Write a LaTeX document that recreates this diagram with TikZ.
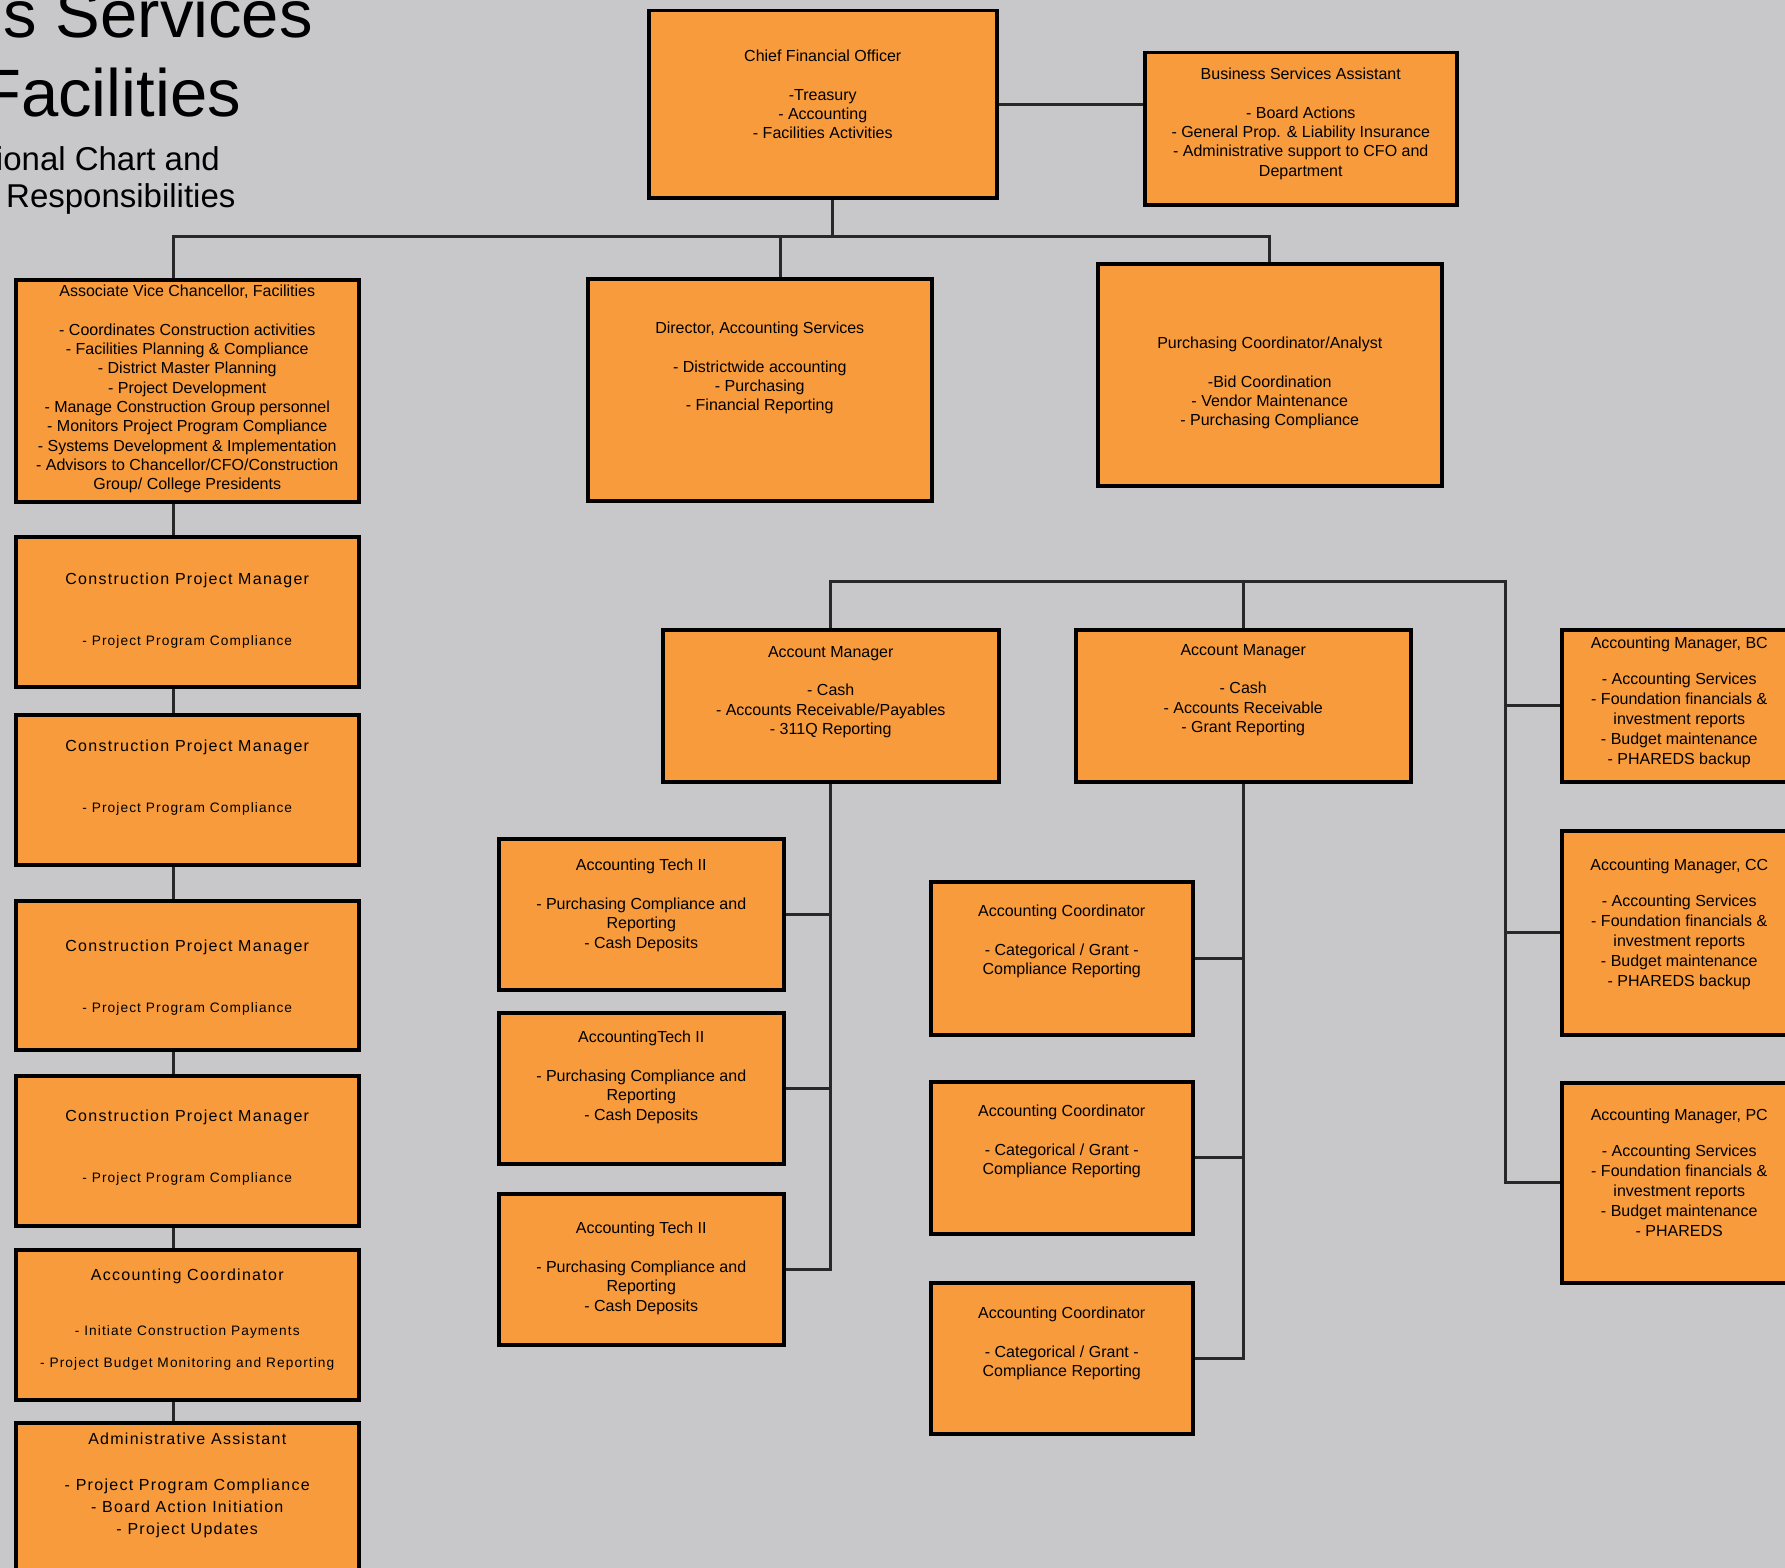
\documentclass[tikz,border=0pt]{standalone}
\usepackage{fontspec}
\setmainfont{Liberation Sans}
\newfontfamily\spacedfont[LetterSpace=8]{Liberation Sans}
\usetikzlibrary{positioning}

\definecolor{chartbg}{RGB}{200,200,202}
\definecolor{boxorange}{RGB}{248,155,60}
\definecolor{linegray}{RGB}{40,40,40}

\tikzset{
  orgbox/.style={draw=black, fill=boxorange, line width=3.5pt, inner sep=0pt, anchor=north west},
  wh/.style 2 args={minimum width=#1pt, minimum height=#2pt},
  boxtext/.style={inner sep=0pt, align=center, font=\fontsize{16}{19.3}\selectfont},
  lefttext/.style={inner sep=0pt, align=center, font=\spacedfont\fontsize{13.7}{17}\selectfont},
  conn/.style={draw=linegray, line width=3pt},
  heading/.style={inner sep=0pt, anchor=base east},
}

\begin{document}
\begin{tikzpicture}[x=1pt, y=-1pt]
\useasboundingbox (0,0) rectangle (1785,1568);
\fill[chartbg] (0,0) rectangle (1785,1568);

% title (cut off at the left edge)
\node[heading, font=\fontsize{67}{80}\selectfont] (title1) at (313,38) {s Services};
\node[heading, font=\fontsize{67}{80}\selectfont] (title2) at (241,117) {Facilities};
\node[heading, font=\fontsize{33}{40}\selectfont] (title3) at (220,171) {ional Chart and};
\node[heading, anchor=base west, font=\fontsize{33}{40}\selectfont] (title4) at (6,207) {Responsibilities};

% top row
\node[orgbox, wh={348}{187}] (cfo) at (647,9) {};
\node[boxtext, below=41pt of cfo.north] (cfotext) {Chief Financial Officer\\[19.3pt] -Treasury\\ - Accounting\\ - Facilities Activities};
\node[orgbox, wh={312}{152}] (bsa) at (1143,51) {};
\node[boxtext, below=17pt of bsa.north] (bsatext) {Business Services Assistant\\[19.3pt] - Board Actions\\ - General Prop. \& Liability Insurance\\ - Administrative support to CFO and\\ Department};

\node[orgbox, wh={343}{222}] (avc) at (14,278) {};
\node[boxtext, below=7pt of avc.north] (avctext) {Associate Vice Chancellor, Facilities\\[19.3pt] - Coordinates Construction activities\\ - Facilities Planning \& Compliance\\ - District Master Planning\\ - Project Development\\ - Manage Construction Group personnel\\ - Monitors Project Program Compliance\\ - Systems Development \& Implementation\\ - Advisors to Chancellor/CFO/Construction\\ Group/ College Presidents};
\node[orgbox, wh={344}{222}] (dir) at (586,277) {};
\node[boxtext, below=45pt of dir.north] (dirtext) {Director, Accounting Services\\[19.3pt] - Districtwide accounting\\ - Purchasing\\ - Financial Reporting};
\node[orgbox, wh={344}{222}] (pur) at (1096,262) {};
\node[boxtext, below=75pt of pur.north] (purtext) {Purchasing Coordinator/Analyst\\[19.3pt] -Bid Coordination\\ - Vendor Maintenance\\ - Purchasing Compliance};

% facilities column
\node[orgbox, wh={343}{150}] (cpm1) at (14,535) {};
\node[orgbox, wh={343}{150}] (cpm2) at (14,713) {};
\node[orgbox, wh={343}{149}] (cpm3) at (14,899) {};
\node[orgbox, wh={343}{150}] (cpm4) at (14,1074) {};
\foreach \b/\d in {cpm1/38, cpm2/27, cpm3/41, cpm4/36}
  \node[lefttext, below=\d pt of \b.north] (\b text) {{\fontsize{16}{19}\selectfont Construction Project Manager}\\[44pt] - Project Program Compliance};
\node[orgbox, wh={343}{150}] (acf) at (14,1248) {};
\node[lefttext, below=21pt of acf.north, font=\spacedfont\fontsize{13.7}{32}\selectfont] (acftext) {{\fontsize{16}{19}\selectfont Accounting Coordinator}\\[23pt] - Initiate Construction Payments\\ - Project Budget Monitoring and Reporting};
\node[orgbox, wh={343}{170}] (adm) at (14,1421) {};
\node[lefttext, below=12pt of adm.north, font=\spacedfont\fontsize{16}{22}\selectfont] (admtext) {Administrative Assistant\\[23.5pt] - Project Program Compliance\\ - Board Action Initiation\\ - Project Updates};

% accounting managers
\node[orgbox, wh={336}{152}] (am1) at (661,628) {};
\node[boxtext, below=18pt of am1.north] (am1text) {Account Manager\\[19.3pt] - Cash\\ - Accounts Receivable/Payables\\ - 311Q Reporting};
\node[orgbox, wh={335}{152}] (am2) at (1074,628) {};
\node[boxtext, below=16pt of am2.north] (am2text) {Account Manager\\[19.3pt] - Cash\\ - Accounts Receivable\\ - Grant Reporting};
\node[orgbox, wh={235}{152}] (amb) at (1560,628) {};
\node[boxtext, below=9pt of amb.north, font=\fontsize{16}{20}\selectfont] (ambtext) {Accounting Manager, BC\\[16pt] - Accounting Services\\ - Foundation financials \&\\ investment reports\\ - Budget maintenance\\ - PHAREDS backup};
\node[orgbox, wh={235}{204}] (amc) at (1560,829) {};
\node[boxtext, below=30pt of amc.north, font=\fontsize{16}{20}\selectfont] (amctext) {Accounting Manager, CC\\[16pt] - Accounting Services\\ - Foundation financials \&\\ investment reports\\ - Budget maintenance\\ - PHAREDS backup};
\node[orgbox, wh={235}{200}] (amp) at (1560,1081) {};
\node[boxtext, below=28pt of amp.north, font=\fontsize{16}{20}\selectfont] (amptext) {Accounting Manager, PC\\[16pt] - Accounting Services\\ - Foundation financials \&\\ investment reports\\ - Budget maintenance\\ - PHAREDS};

% techs and coordinators
\node[orgbox, wh={285}{151}] (at1) at (497,837) {};
\node[boxtext, below=22pt of at1.north] (at1text) {Accounting Tech II\\[19.3pt] - Purchasing Compliance and\\ Reporting\\ - Cash Deposits};
\node[orgbox, wh={285}{151}] (at2) at (497,1011) {};
\node[boxtext, below=20pt of at2.north] (at2text) {AccountingTech II\\[19.3pt] - Purchasing Compliance and\\ Reporting\\ - Cash Deposits};
\node[orgbox, wh={285}{151}] (at3) at (497,1192) {};
\node[boxtext, below=30pt of at3.north] (at3text) {Accounting Tech II\\[19.3pt] - Purchasing Compliance and\\ Reporting\\ - Cash Deposits};
\node[orgbox, wh={262}{153}] (ac1) at (929,880) {};
\node[orgbox, wh={262}{152}] (ac2) at (929,1080) {};
\node[orgbox, wh={262}{151}] (ac3) at (929,1281) {};
\foreach \b/\d in {ac1/25, ac2/25, ac3/26}
  \node[boxtext, below=\d pt of \b.north] (\b text) {Accounting Coordinator\\[19.3pt] - Categorical / Grant -\\ Compliance Reporting};

% connectors
\coordinate (topbus) at (832,236);
\coordinate (avcdrop) at ([xshift=-14pt]avc.north);
\coordinate (dirdrop) at ([xshift=21pt]dir.north);
\draw[conn] (cfo.east) -- (cfo.east -| bsa.west);
\draw[conn] (topbus) -- (topbus |- cfo.south);
\draw[conn] (avcdrop) |- (topbus) -| (pur.north);
\draw[conn] (dirdrop) -- (dirdrop |- topbus);
\foreach \a/\b in {avc/cpm1, cpm1/cpm2, cpm2/cpm3, cpm3/cpm4, cpm4/acf, acf/adm}
  \draw[conn] ([xshift=-14pt]\a.south) -- ([xshift=-14pt]\b.north);

\coordinate (midbus) at (1505,581);
\draw[conn] (am1.north) |- (midbus) |- (amp.west);
\draw[conn] (am2.north) -- (am2.north |- midbus);
\foreach \b in {amb, amc}
  \draw[conn] (midbus |- \b.west) -- (\b.west);

\draw[conn] (am1.south) |- (at3.east);
\foreach \b in {at1, at2}
  \draw[conn] (\b.east) -- (\b.east -| am1.south);
\draw[conn] (am2.south) |- (ac3.east);
\foreach \b in {ac1, ac2}
  \draw[conn] (\b.east) -- (\b.east -| am2.south);
\end{tikzpicture}
\end{document}
